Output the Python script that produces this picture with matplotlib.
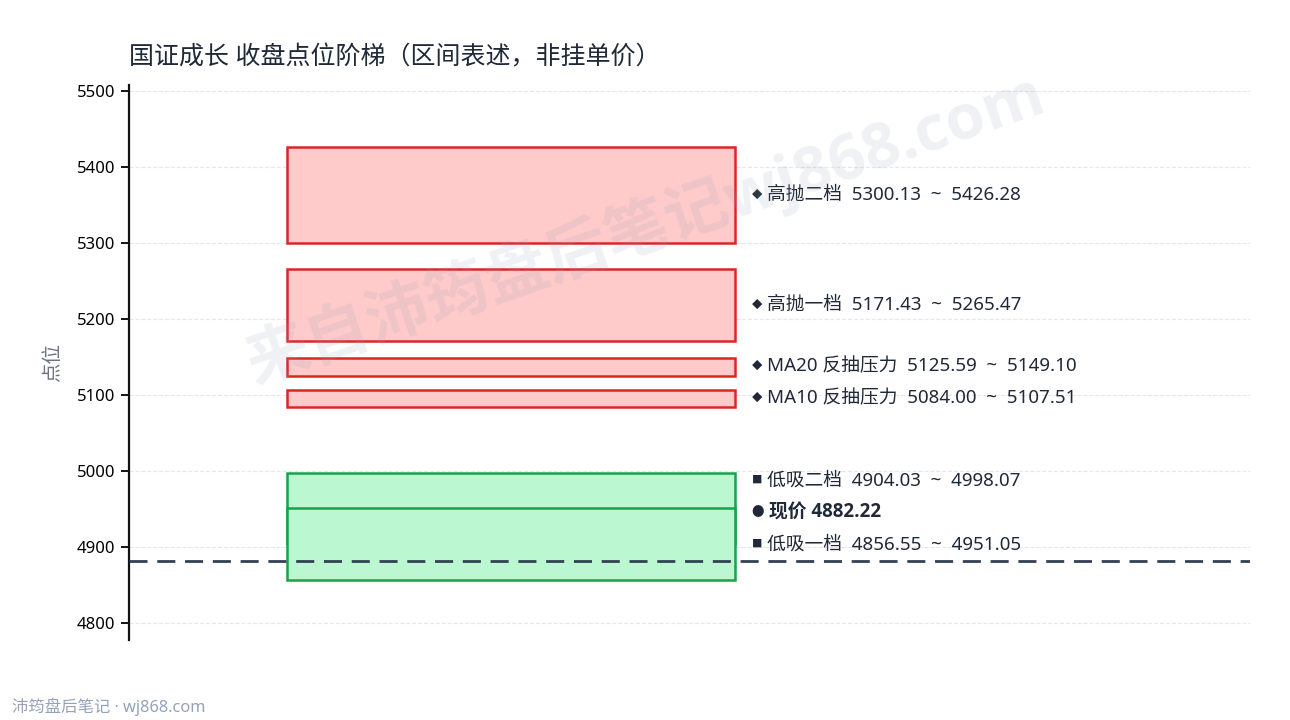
import matplotlib
matplotlib.use("Agg")
import matplotlib.pyplot as plt
from matplotlib.patches import Rectangle

plt.rcParams["font.family"] = ["Noto Sans", "Noto Sans CJK SC", "DejaVu Sans"]
BOLD_FAM = ["Open Sans", "Noto Sans CJK SC", "DejaVu Sans"]

# tiers, bottom-up order for the labels
names = ["低吸一档", "低吸二档", "MA10 反抽压力", "MA20 反抽压力", "高抛一档", "高抛二档"]
lows = [4856.55, 4904.03, 5084.00, 5125.59, 5171.43, 5300.13]
highs = [4951.05, 4998.07, 5107.51, 5149.10, 5265.47, 5426.28]
kinds = ["support", "support", "resist", "resist", "resist", "resist"]
price = 4882.22
yticks = [4800, 4900, 5000, 5100, 5200, 5300, 5400, 5500]

fill = {"support": "#bbf7d0", "resist": "#fecaca"}
edge = {"support": "#16a34a", "resist": "#dc2626"}
mark = {"support": "\u25a0", "resist": "\u25c6"}

fig = plt.figure(figsize=(12.9, 7.2), dpi=100)
ax = fig.add_axes([0.1, 0.111, 0.869, 0.771])
ax.set_xlim(0, 1)
ax.set_ylim(4778, 5508)

ax.grid(axis="y", color="#e5e7eb", linestyle="--", linewidth=0.8)
ax.set_axisbelow(True)

# upper tiers first so low tier 1 sits on top of low tier 2
for i in sorted(range(len(names)), key=lambda k: -lows[k]):
    r = Rectangle((0.141, lows[i]), 0.4, highs[i] - lows[i],
                  facecolor=fill[kinds[i]], edgecolor=edge[kinds[i]], linewidth=1.8, zorder=2)
    ax.add_patch(r)

ax.axhline(price, color="#334155", linestyle=(0, (6.5, 3.5)), linewidth=2, zorder=3)

# label positions: midpoints, pushed upward to keep a minimum gap
entries = [(names[0], (lows[0] + highs[0]) / 2, kinds[0]), ("现价", price, "price")]
for i in range(1, len(names)):
    entries.append((names[i], (lows[i] + highs[i]) / 2, kinds[i]))
gap = 42
pos = []
for j, (n, y, k) in enumerate(entries):
    pos.append(y if j == 0 else max(y, pos[-1] + gap))

for j, (n, y, k) in enumerate(entries):
    if k == "price":
        ax.text(0.5555, pos[j], "\u25cf", fontsize=9, color="#1f2937", va="center", ha="left")
        ax.text(0.5705, pos[j], f"现价 {price:.2f}", fontsize=13.5, fontweight="bold",
                family=BOLD_FAM, color="#1f2937", va="center", ha="left")
    else:
        idx = names.index(n)
        ax.text(0.556, pos[j], mark[k], fontsize=7.5, color="#1f2937", va="center", ha="left")
        ax.text(0.5695, pos[j], f"{n}  {lows[idx]:.2f}  ~  {highs[idx]:.2f}", fontsize=13.5,
                color="#1f2937", va="center", ha="left")

ax.set_yticks(yticks)
ax.tick_params(axis="y", labelsize=12, length=6, width=1.3, direction="out", pad=4)
ax.set_xticks([])
for s in ["top", "right", "bottom"]:
    ax.spines[s].set_visible(False)
ax.spines["left"].set_linewidth(1.6)
ax.spines["left"].set_color("#111111")
ax.set_ylabel("点位", fontsize=14, color="#6b7280", labelpad=10)

fig.text(0.1, 0.92, "国证成长 收盘点位阶梯（区间表述，非挂单价）", fontsize=18,
         color="#1f2937", ha="left", va="center")
fig.text(0.009, 0.018, "沛筠盘后笔记 · wj868.com", fontsize=11.8, color="#94a3b8",
         ha="left", va="center")
fig.text(0.5, 0.683, "来自沛筠盘后笔记wj868.com", fontsize=45.5, fontweight="bold",
         family=BOLD_FAM, color="#94a3b8", alpha=0.15, rotation=19,
         ha="center", va="center", zorder=10)

fig.savefig("out.png", dpi=100)
